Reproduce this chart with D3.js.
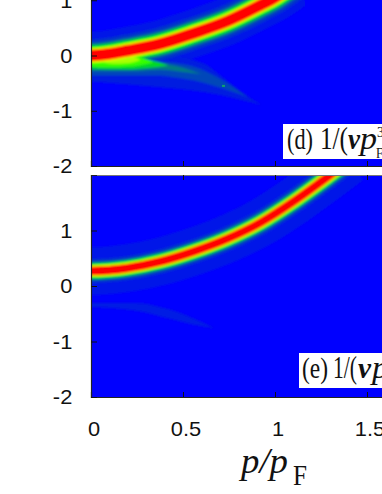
<!DOCTYPE html>
<meta charset="utf-8">
<style>
  html, body { margin: 0; background: #fff; overflow: hidden; }
  svg { display: block; }
  .tick text { font-family: "Liberation Sans", sans-serif; font-size: 21px; fill: #111; }
  .serif { font-family: "Liberation Serif", serif; fill: #111; }
</style>
<body>
<script src="https://cdn.jsdelivr.net/npm/d3@7"></script>
<script>
  var xTicks = [0, 0.5, 1, 1.5];
  var yTicksD = [1, 0, -1, -2];
  var yTicksE = [1, 0, -1, -2];

  // main ridge (p/pF, omega)
  var ridgePD = [-0.1, 0, 0.1, 0.2, 0.375, 0.556, 0.74, 0.92, 1.0, 1.1];
  var ridgeWD = [0, 0, 0.03, 0.09, 0.21, 0.4, 0.62, 0.91, 1.05, 1.28];
  var ridgePE = [-0.1, 0, 0.1, 0.194, 0.375, 0.556, 0.74, 0.92, 1.1, 1.28, 1.4];
  var ridgeWE = [0.27, 0.27, 0.285, 0.32, 0.44, 0.62, 0.85, 1.14, 1.52, 1.95, 2.25];

  // intensity levels of the ridge and their half widths in omega
  var levels = [0.03, 0.07, 0.15, 0.25, 0.33, 0.5, 0.66, 0.8, 1];
  var halfWD = [0.43, 0.29, 0.225, 0.19, 0.165, 0.14, 0.125, 0.11, 0.1];
  var halfWE = [0.43, 0.21, 0.165, 0.14, 0.125, 0.105, 0.092, 0.082, 0.074];

  // lower branch of panel d, one outline per level
  var branchD = [
    {level: 0.04, p: [0, 0.375, 0.61, 0.7, 0.81, 0.927],
      top: [0, 0, -0.14, -0.35, -0.636, -0.895], bot: [-0.47, -0.575, -0.66, -0.714, -0.8, -0.895]},
    {level: 0.09, p: [0, 0.375, 0.465, 0.556, 0.7, 0.85],
      top: [0, -0.11, -0.14, -0.2, -0.42, -0.75], bot: [-0.36, -0.36, -0.4, -0.45, -0.58, -0.75]},
    {level: 0.16, p: [0, 0.25, 0.375, 0.5, 0.6],
      top: [0, -0.05, -0.13, -0.22, -0.34], bot: [-0.28, -0.28, -0.26, -0.3, -0.34]},
    {level: 0.28, p: [0, 0.19, 0.32, 0.42],
      top: [0, 0, -0.08, -0.18], bot: [-0.24, -0.25, -0.22, -0.18]},
    {level: 0.4, p: [0, 0.1, 0.2, 0.34],
      top: [0, 0, 0, -0.12], bot: [-0.2, -0.21, -0.2, -0.12]},
    {level: 0.55, p: [0.05, 0.12, 0.2, 0.27],
      top: [0, 0, 0, -0.08], bot: [-0.1, -0.15, -0.14, -0.08]}
  ];
  // isolated speck in panel d
  var speckP = [0.72];
  var speckW = [-0.55];

  // faint lower branch of panel e
  var branchE = [
    {level: 0.035, p: [0, 0.2, 0.28, 0.375, 0.465, 0.556, 0.673],
      top: [-0.3, -0.3, -0.31, -0.38, -0.46, -0.58, -0.76], bot: [-0.385, -0.43, -0.47, -0.55, -0.62, -0.7, -0.76]}
  ];

  var color = d3.scaleLinear().domain([0, 0.33, 0.66, 1])
    .range(["#0000ff", "#00ff00", "#ffff00", "#ff0000"]);

  var svg = d3.select("body").append("svg").attr("width", 382).attr("height", 494);
  var defs = svg.append("defs");
  defs.append("filter").attr("id", "soft")
    .attr("x", "-5%").attr("y", "-5%").attr("width", "110%").attr("height", "110%")
    .append("feGaussianBlur").attr("stdDeviation", 0.9);

  var x = d3.scaleLinear().domain([0, 2]).range([91, 459]);

  function panel(id, yRange, ridgeP, ridgeW, halfW, branches, yTicks) {
    var y = d3.scaleLinear().domain([-2, 2]).range(yRange);
    defs.append("clipPath").attr("id", "clip" + id).append("rect")
      .attr("x", x(0)).attr("y", y(2))
      .attr("width", x(2) - x(0)).attr("height", y(-2) - y(2));

    var g = svg.append("g").attr("clip-path", "url(#clip" + id + ")");
    g.append("rect").attr("x", x(0)).attr("y", y(2))
      .attr("width", x(2) - x(0)).attr("height", y(-2) - y(2)).attr("fill", "#0000ff");

    var heat = g.append("g").attr("filter", "url(#soft)");
    var line = d3.line().curve(d3.curveMonotoneX)
      .x(function(i) { return x(ridgeP[i]); })
      .y(function(i) { return y(ridgeW[i]); });
    var idx = d3.range(ridgeP.length);

    // paint from the lowest intensity up, branch and ridge together
    var layers = levels.map(function(v, l) { return {level: v, half: halfW[l]}; }).concat(branches);
    layers.sort(function(a, b) { return d3.ascending(a.level, b.level); });
    layers.forEach(function(b) {
      if (b.p) {
        var area = d3.area().curve(d3.curveMonotoneX)
          .x(function(i) { return x(b.p[i]); })
          .y0(function(i) { return y(b.bot[i]); })
          .y1(function(i) { return y(b.top[i]); });
        heat.append("path").attr("d", area(d3.range(b.p.length))).attr("fill", color(b.level));
      } else {
        heat.append("path").attr("d", line(idx)).attr("fill", "none")
          .attr("stroke", color(b.level))
          .attr("stroke-width", 2 * (y(0) - y(b.half)));
      }
    });

    // frame and ticks
    var xb = d3.axisBottom(x).tickValues(xTicks).tickSize(-5).tickFormat("");
    var xt = d3.axisTop(x).tickValues(xTicks).tickSize(-5).tickFormat("");
    var yl = d3.axisLeft(y).tickValues(yTicks).tickSize(-6).tickFormat(function(v) { return String(v); });
    var axB = svg.append("g").attr("transform", "translate(0," + y(-2) + ")").call(xb);
    var axT = svg.append("g").attr("transform", "translate(0," + y(2) + ")").call(xt);
    var axL = svg.append("g").attr("transform", "translate(" + x(0) + ",0)").call(yl);
    [axB, axT, axL].forEach(function(a) {
      a.select(".domain").attr("stroke", "#222").attr("stroke-width", 1.2);
      a.selectAll("line").attr("stroke", "#111");
    });
    axT.select(".domain").attr("stroke", "#777");
    axL.selectAll("text").attr("transform", "scale(1.04,1)")
      .attr("x", -18).attr("dy", "0.33em");
    return {y: y, g: g};
  }

  var d = panel("d", [166, -55], ridgePD, ridgeWD, halfWD, branchD, yTicksD);
  panel("e", [397, 175], ridgePE, ridgeWE, halfWE, branchE, yTicksE);

  d.g.selectAll(".speck").data(speckP).enter().append("rect").attr("class", "speck")
    .attr("x", function(v) { return x(v) - 1.5; })
    .attr("y", function(v, i) { return d.y(speckW[i]) - 1; })
    .attr("width", 3).attr("height", 2).attr("fill", "#10a070");

  // tick labels of the bottom axis
  var lab = svg.append("g").attr("class", "tick");
  lab.selectAll("text").data(xTicks).enter().append("text")
    .attr("text-anchor", "middle")
    .attr("transform", function(v) { return "translate(" + (x(v) + 3) + ",436) scale(1.04,1)"; })
    .text(function(v) { return v; });

  function piece(px, base, size, len, str, italic, bold) {
    svg.append("text").attr("class", "serif").attr("x", px).attr("y", base)
      .attr("font-size", size).attr("textLength", len).attr("lengthAdjust", "spacingAndGlyphs")
      .attr("font-style", italic ? "italic" : null).attr("font-weight", bold ? "bold" : null)
      .text(str);
  }
  function legendBox(bx, by, bh) {
    svg.append("rect").attr("x", bx).attr("y", by).attr("width", 382 - bx).attr("height", bh).attr("fill", "#fff");
  }
  legendBox(283, 124, 35);
  piece(287, 149, 29, 26, "(d)");
  piece(320, 149, 32, 28, "1/(");
  piece(348, 149, 30, 12, "v", true, true);
  piece(360, 149, 32, 17, "p", true);
  piece(376, 158, 15, 7, "F");
  piece(377, 137, 15, 7, "3");

  legendBox(299, 353, 35);
  piece(302, 378, 29, 26, "(e)");
  piece(333, 378, 32, 24, "1/(");
  piece(358, 378, 30, 13, "v", true, true);
  piece(372, 378, 32, 17, "p", true);

  // axis title
  piece(241, 473, 36, 47, "p/p", true);
  piece(293, 485, 30, 14, "F");
</script>
</body>
</html>
